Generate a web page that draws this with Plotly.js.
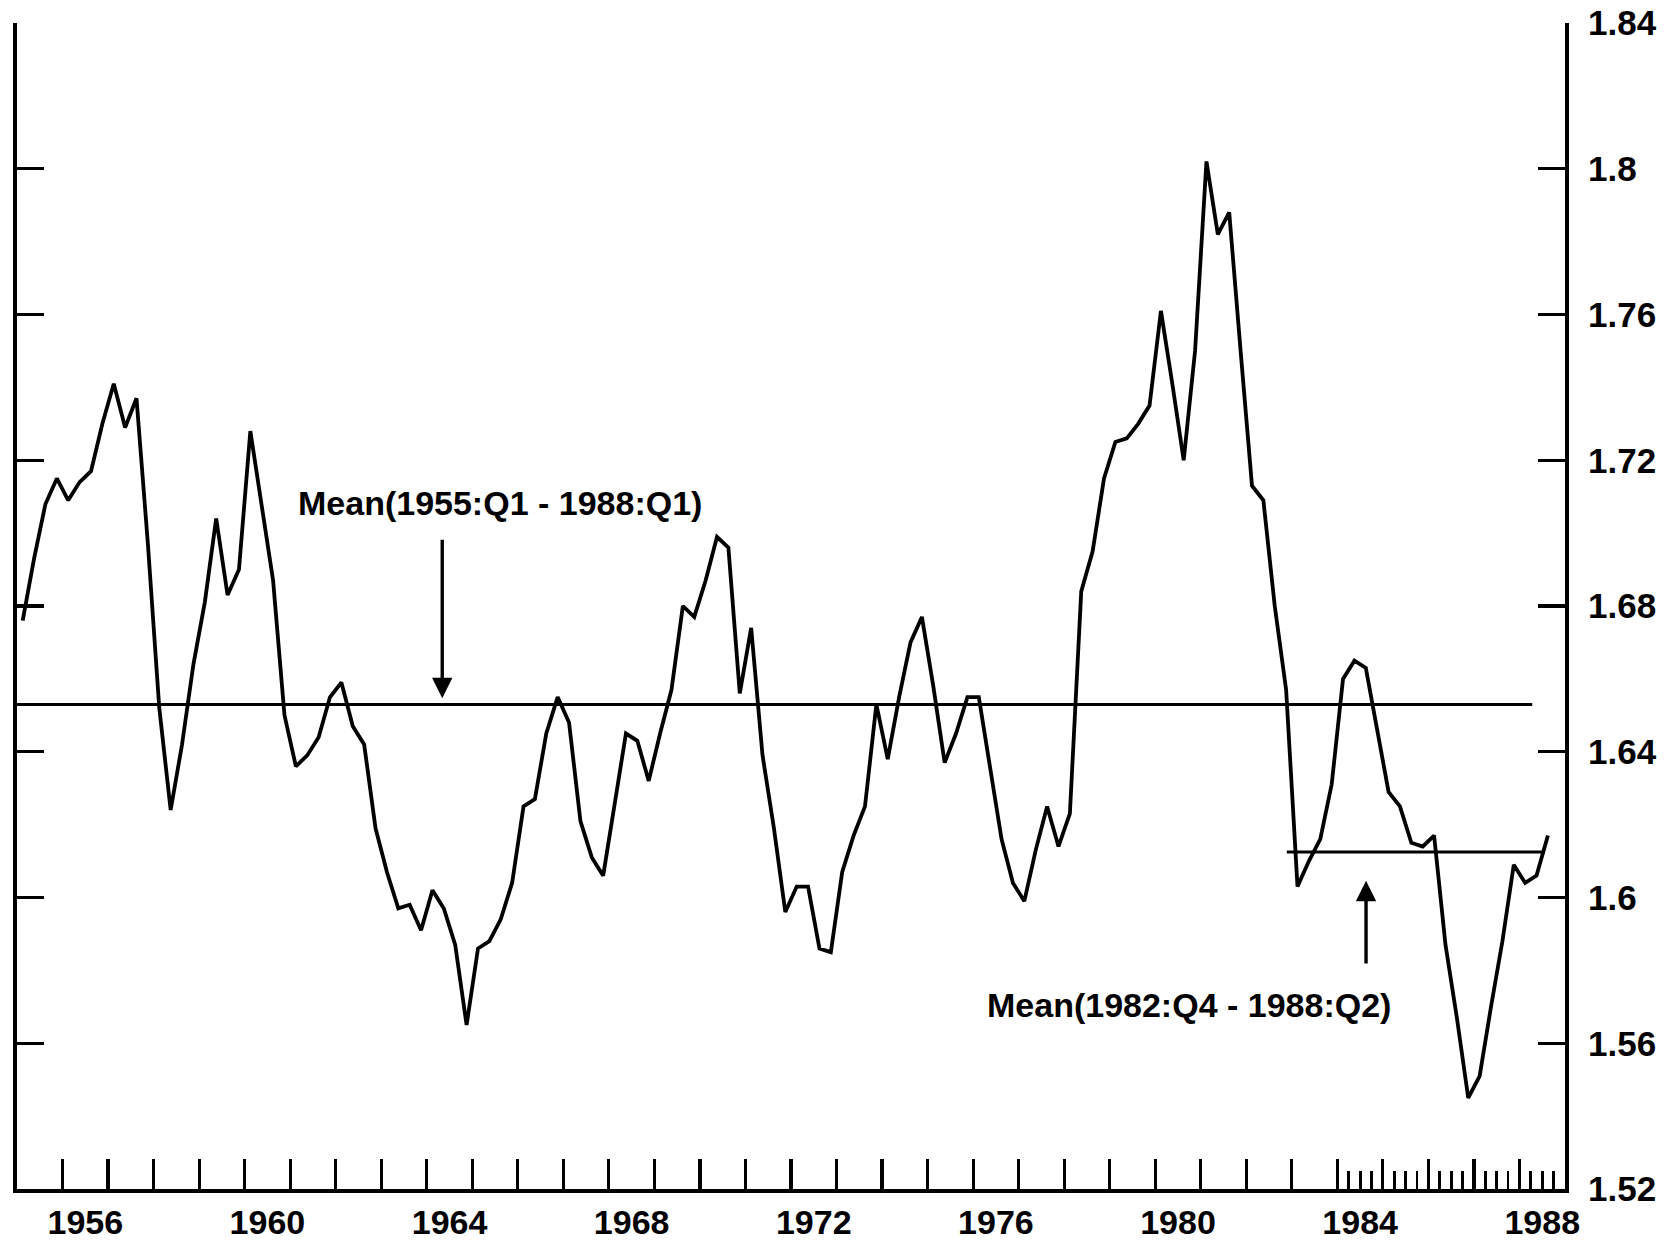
<!DOCTYPE html>
<html>
<head>
<meta charset="utf-8">
<script src="https://cdn.plot.ly/plotly-3.0.1.min.js"></script>
<style>
  html, body { margin: 0; padding: 0; background: #ffffff; }
  #chart { width: 1672px; height: 1246px; }
</style>
</head>
<body>
<div id="chart"></div>
<script>
// Quarterly series, 1955:Q1 onward
const firstYear = 1955;
const ratio = [
  1.676, 1.693, 1.708, 1.715, 1.709, 1.714, 1.717, 1.730,   // 1955-56
  1.741, 1.729, 1.737, 1.697, 1.652, 1.624, 1.642, 1.664,   // 1957-58
  1.681, 1.704, 1.683, 1.690, 1.728, 1.708, 1.687, 1.650,   // 1959-60
  1.636, 1.639, 1.644, 1.655, 1.659, 1.647, 1.642, 1.619,   // 1961-62
  1.607, 1.597, 1.598, 1.591, 1.602, 1.597, 1.587, 1.565,   // 1963-64
  1.586, 1.588, 1.594, 1.604, 1.625, 1.627, 1.645, 1.655,   // 1965-66
  1.648, 1.621, 1.611, 1.606, 1.625, 1.645, 1.643, 1.632,   // 1967-68
  1.645, 1.657, 1.680, 1.677, 1.687, 1.699, 1.696, 1.656,   // 1969-70
  1.674, 1.639, 1.619, 1.596, 1.603, 1.603, 1.586, 1.585,   // 1971-72
  1.607, 1.617, 1.625, 1.653, 1.638, 1.655, 1.670, 1.677,   // 1973-74
  1.658, 1.637, 1.645, 1.655, 1.655, 1.636, 1.616, 1.604,   // 1975-76
  1.599, 1.613, 1.625, 1.614, 1.623, 1.684, 1.695, 1.715,   // 1977-78
  1.725, 1.726, 1.730, 1.735, 1.761, 1.741, 1.720, 1.750,   // 1979-80
  1.802, 1.782, 1.788, 1.750, 1.713, 1.709, 1.680, 1.657,   // 1981-82
  1.603, 1.610, 1.616, 1.631, 1.660, 1.665, 1.663, 1.646,   // 1983-84
  1.629, 1.625, 1.615, 1.614, 1.617, 1.587, 1.567, 1.545,   // 1985-86
  1.551, 1.570, 1.588, 1.609, 1.604, 1.606, 1.617           // 1987-88:Q3
];

// Mean lines
const meanLabels = ["Mean(1955:Q1 - 1988:Q1)", "Mean(1982:Q4 - 1988:Q2)"];
const meanValues = [1.653, 1.6125];
const meanFrom   = [1955.0, 1982.89];
const meanTo     = [1988.28, 1988.56];

// Axis ticks
const yTicks = [1.52, 1.56, 1.6, 1.64, 1.68, 1.72, 1.76, 1.8, 1.84];
const yTickText = ["1.52", "1.56", "1.6", "1.64", "1.68", "1.72", "1.76", "1.8", "1.84"];
const yearTicks = [];
for (let y = 1956; y <= 1988; y++) yearTicks.push(y);
const labelYears = [1956, 1960, 1964, 1968, 1972, 1976, 1980, 1984, 1988];
const quarterTickYears = [1984, 1985, 1986, 1987, 1988];

const quarterTime = ratio.map((_, i) => firstYear + (i + 0.5) / 4);
const minorVals = [];
quarterTickYears.forEach(y => { [0.25, 0.5, 0.75].forEach(f => minorVals.push(y + f)); });

const FONT = "Liberation Sans, Arial, Helvetica, sans-serif";
const TXT = (size) => ({ family: FONT, size: size, color: "#000", weight: "bold" });

const traces = [
  {
    x: quarterTime, y: ratio, type: "scatter", mode: "lines",
    line: { color: "#000", width: 3.8 }, hoverinfo: "skip", showlegend: false
  }
];
meanValues.forEach((v, i) => {
  traces.push({
    x: [meanFrom[i], meanTo[i]], y: [v, v], type: "scatter", mode: "lines",
    line: { color: "#000", width: 3 }, hoverinfo: "skip", showlegend: false
  });
});
// invisible trace to activate the label axis
traces.push({ x: [1955, 1989], y: [1.52, 1.52], xaxis: "x2", yaxis: "y",
  type: "scatter", mode: "markers", marker: { opacity: 0 }, hoverinfo: "skip", showlegend: false });

const layout = {
  width: 1672, height: 1246,
  margin: { l: 17, r: 107, t: 23, b: 57, pad: 0 },
  paper_bgcolor: "#fff", plot_bgcolor: "#fff",
  font: { family: FONT, color: "#000", size: 33 },
  showlegend: false,
  xaxis: {
    range: [1955, 1989], showgrid: false, zeroline: false,
    showline: true, linecolor: "#000", linewidth: 4, mirror: false,
    tickmode: "array", tickvals: yearTicks, ticks: "inside", ticklen: 30, tickwidth: 3.2, tickcolor: "#000",
    showticklabels: false,
    minor: { tickmode: "array", tickvals: minorVals, ticks: "inside", ticklen: 18, tickwidth: 2.8, tickcolor: "#000", showgrid: false }
  },
  xaxis2: {
    overlaying: "x", anchor: "y", side: "bottom",
    range: [1955, 1989], showgrid: false, zeroline: false, showline: false,
    tickmode: "array", tickvals: labelYears.map(y => y + 0.5), ticktext: labelYears.map(String),
    ticks: "", tickfont: TXT(34), ticklabelstandoff: 10
  },
  yaxis: {
    range: [1.52, 1.84], side: "right", showgrid: false, zeroline: false,
    showline: true, linecolor: "#000", linewidth: 4, mirror: "ticks",
    tickmode: "array", tickvals: yTicks, ticktext: yTickText,
    ticks: "inside", ticklen: 27, tickwidth: 3.2, tickcolor: "#000",
    tickfont: TXT(35),
    ticklabelstandoff: 12
  },
  annotations: [
    { x: 1965.61, y: 1.7083, xref: "x", yref: "y", text: meanLabels[0], showarrow: false,
      font: TXT(34), xanchor: "center", yanchor: "middle" },
    { x: 1980.74, y: 1.5704, xref: "x", yref: "y", text: meanLabels[1], showarrow: false,
      font: TXT(34), xanchor: "center", yanchor: "middle" },
    { x: 1964.34, y: 1.6547, xref: "x", yref: "y", ax: 1964.34, ay: 1.6986, axref: "x", ayref: "y",
      text: "", showarrow: true, arrowhead: 2, arrowsize: 1.2, arrowwidth: 3.4, arrowcolor: "#000", standoff: 0 },
    { x: 1984.63, y: 1.6046, xref: "x", yref: "y", ax: 1984.63, ay: 1.5815, axref: "x", ayref: "y",
      text: "", showarrow: true, arrowhead: 2, arrowsize: 1.2, arrowwidth: 3.4, arrowcolor: "#000", standoff: 0 }
  ]
};

Plotly.newPlot("chart", traces, layout, { staticPlot: true, displayModeBar: false });
</script>
</body>
</html>
